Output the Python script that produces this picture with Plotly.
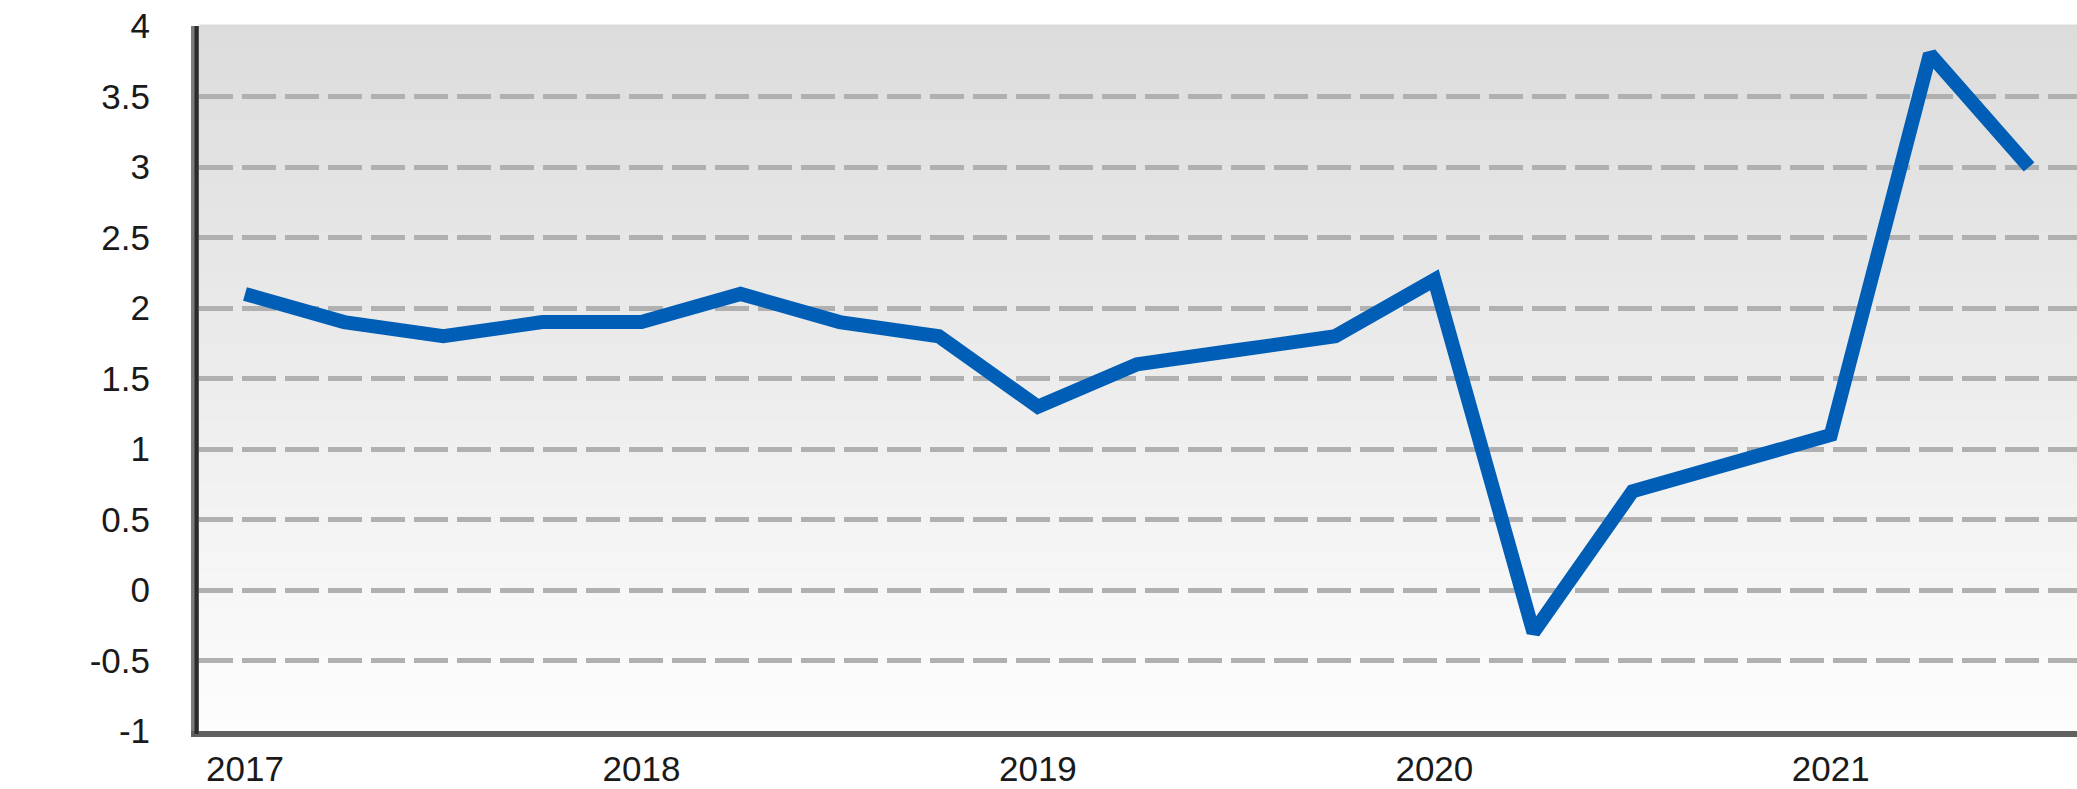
import plotly.graph_objects as go

# Quarterly observations, 2017 Q1 – 2021 Q3 (decimal years)
x_years = [2017.00, 2017.25, 2017.50, 2017.75,
           2018.00, 2018.25, 2018.50, 2018.75,
           2019.00, 2019.25, 2019.50, 2019.75,
           2020.00, 2020.25, 2020.50, 2020.75,
           2021.00, 2021.25, 2021.50]
values = [2.1, 1.9, 1.8, 1.9,
          1.9, 2.1, 1.9, 1.8,
          1.3, 1.6, 1.7, 1.8,
          2.2, -0.3, 0.7, 0.9,
          1.1, 3.8, 3.0]

x_tickvals = [2017, 2018, 2019, 2020, 2021]
x_ticktext = ["2017", "2018", "2019", "2020", "2021"]
y_tickvals = [-1, -0.5, 0, 0.5, 1, 1.5, 2, 2.5, 3, 3.5, 4]
y_ticktext = ["-1", "-0.5", "0", "0.5", "1", "1.5", "2", "2.5", "3", "3.5", "4"]

W, H = 2077, 789
ML, MR, MT, MB = 199, 0, 26, 58
plot_w = W - ML - MR
plot_h = H - MT - MB

fig = go.Figure()
fig.add_trace(go.Scatter(
    x=x_years, y=values, mode="lines",
    line=dict(color="#005eb6", width=14),
    hoverinfo="skip", showlegend=False,
))

# vertical gradient background of the plotting area (decoration)
shapes = []
N = 120
top_c, bot_c = 220, 253
for i in range(N):
    t = (i + 0.5) / N
    c = round(bot_c + (top_c - bot_c) * t)
    shapes.append(dict(
        type="rect", xref="x domain", yref="y domain",
        x0=0, x1=1, y0=i / N, y1=(i + 1) / N + 0.002,
        fillcolor=f"rgb({c},{c},{c})", line=dict(width=0), layer="below",
    ))
# dark inner edge of the left axis
shapes.append(dict(
    type="line", xref="x domain", yref="y domain",
    x0=-2.5 / plot_w, x1=-2.5 / plot_w, y0=-3 / plot_h, y1=1,
    line=dict(color="#2b2b2b", width=4), layer="above",
))

font = dict(family="Liberation Sans, Arial, sans-serif", size=35, color="#1a1a1a")

fig.update_layout(
    width=W, height=H,
    margin=dict(l=ML, r=MR, t=MT, b=MB, pad=0, autoexpand=False),
    paper_bgcolor="white", plot_bgcolor="white",
    shapes=shapes,
    font=font,
    xaxis=dict(
        range=[2016.884, 2021.621],
        tickmode="array", tickvals=x_tickvals, ticktext=x_ticktext,
        showgrid=False, zeroline=False, automargin=False,
        showline=True, linecolor="#606060", linewidth=6,
        ticks="", ticklabelstandoff=2,
        tickfont=font,
    ),
    yaxis=dict(
        range=[-1, 4],
        tickmode="array", tickvals=y_tickvals, ticktext=y_ticktext,
        showgrid=True, gridcolor="#b0b0b0", gridwidth=5, griddash="34px,9px",
        zeroline=False, automargin=False,
        showline=True, linecolor="#7c7c7c", linewidth=8,
        ticks="", ticklabelstandoff=34,
        tickfont=font,
    ),
)

fig.write_html("out.html",
               config={"displayModeBar": False, "staticPlot": True},
               post_script="document.body.style.margin='0';document.body.style.overflow='hidden';")
